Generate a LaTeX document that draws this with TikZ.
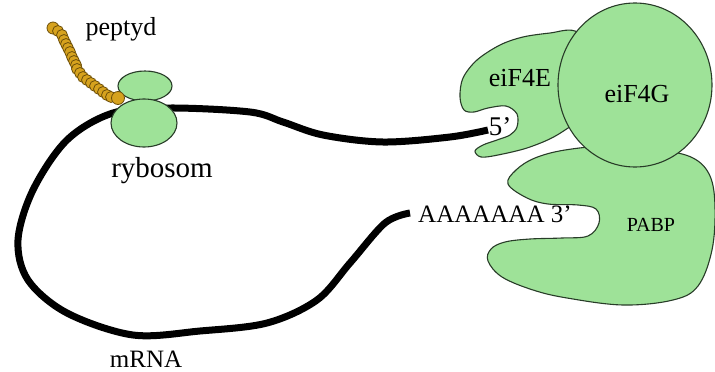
\documentclass[tikz,border=0pt]{standalone}
\usepackage{fontspec}
\setmainfont{Liberation Serif}
\usetikzlibrary{shapes.geometric}
\definecolor{protgreen}{RGB}{158,226,152}
\definecolor{protline}{RGB}{40,60,40}
\definecolor{bead}{RGB}{214,162,30}
\definecolor{beadline}{RGB}{110,80,10}
\tikzset{
  protein/.style={fill=protgreen, draw=protline, line width=1.1},
  rna/.style={draw=black, line width=7},
  beadball/.style={circle, fill=bead, draw=beadline, line width=0.8, inner sep=0, minimum size=11},
  lbl/.style={font=\fontsize{26}{30}\selectfont, inner sep=0},
  smalllbl/.style={font=\fontsize{20}{24}\selectfont, inner sep=0}
}
\begin{document}
\begin{tikzpicture}[x=1pt,y=-1pt]
\useasboundingbox (0,0) rectangle (715,372);

% mRNA strand, from the poly(A) tail round to the 5' cap
\draw[rna] plot[smooth, tension=0.55] coordinates {
  (410,213) (385,223) (350,263) (317,300) (267,323) (200,331) (133,335)
  (67,313) (28,280) (18,240) (33,190) (67,140) (113,113) (170,108)
  (250,112) (283,122) (323,135) (383,142) (450,137) (488,130)};

% ribosome: small and large subunits
\node[ellipse, protein, minimum width=54, minimum height=30, inner sep=0] (small) at (145,86) {};
\node[ellipse, protein, minimum width=66, minimum height=48, inner sep=0] (large) at (144,123) {};

% nascent peptide chain
\node[beadball, minimum size=12] (bead0) at (53,28) {};
\foreach \px/\py [count=\i] in {58/31, 62/35, 64/40, 66/44, 68/48, 70/52, 72/57,
    74/61, 76/65, 77/69, 80/73, 83/77, 87/80, 91/83, 95/86, 99/89,
    103/92, 107/95, 111/97}
  \node[beadball] (bead\i) at (\px,\py) {};
\node[beadball, minimum size=13] (bead20) at (118,98) {};

% PABP
\draw[protein] plot[smooth cycle, tension=0.6] coordinates {
  (508,184) (516,170) (535,158) (565,150) (610,146) (660,150) (693,158)
  (710,176) (715,207) (712,250) (698,286) (673,300) (623,305) (567,298)
  (533,290) (502,277) (488,261) (491,249) (505,242) (530,239) (562,238)
  (588,236) (599,223) (596,209) (578,205) (548,204) (527,198)};

% eiF4E
\draw[protein] plot[smooth cycle, tension=0.55] coordinates {
  (575,31) (550,33) (523,37) (500,45) (477,60) (463,78) (460,97) (464,110)
  (474,112) (488,108) (506,106) (517,114) (517,127) (510,135) (497,140)
  (483,145) (475,151) (481,157) (498,155) (530,147) (562,132) (600,100)
  (600,50)};

% eiF4G
\node[ellipse, protein, minimum width=154, minimum height=164, inner sep=0] (g) at (635,85) {};

% labels
\node[lbl] (peptyd) at (121,29) {peptyd};
\node[lbl, font=\fontsize{29}{33}\selectfont] (rybosom) at (162,171) {rybosom};
\node[lbl, font=\fontsize{25}{29}\selectfont] (mrna) at (146,359) {mRNA};
\node[lbl, anchor=west, font=\fontsize{25}{29}\selectfont] (polyA) at (418,214) {AAAAAAA 3’};
\node[lbl, font=\fontsize{27}{31}\selectfont] (five) at (500,127) {5’};
\node[lbl] (e4e) at (520,78) {eiF4E};
\node[lbl] (e4g) at (637,94) {eiF4G};
\node[smalllbl] (pabp) at (651,225) {PABP};
\end{tikzpicture}
\end{document}
